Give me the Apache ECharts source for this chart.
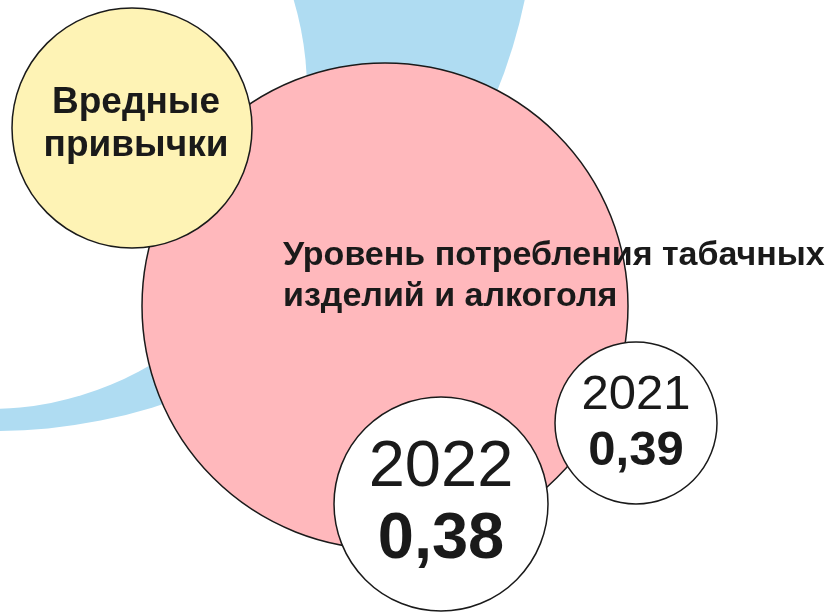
<!DOCTYPE html>
<html>
<head>
<meta charset="utf-8">
<script src="https://cdn.jsdelivr.net/npm/echarts@6/dist/echarts.min.js"></script>
<style>
  html, body { margin: 0; padding: 0; background: #fff; }
  #chart { width: 831px; height: 612px; }
</style>
</head>
<body>
<div id="chart"></div>
<script>
// data
var groupTitle = ['Вредные', 'привычки'];
var indicatorTitle = ['Уровень потребления табачных', 'изделий и алкоголя'];
var years = ['2021', '2022'];
var values = [0.39, 0.38];

var font = '"Liberation Sans", Arial, sans-serif';
var ink = '#1a1a1a';

function fmt(v) {
    return v.toFixed(2).replace('.', ',');
}

// bubble layout for each year (2021 small right, 2022 big bottom)
var bubbles = [
    { cx: 636, cy: 423, r: 81, size: 49, gap: 28 },
    { cx: 441, cy: 504, r: 107, size: 65, gap: 36 }
];

var elements = [];

// blue crescent behind everything
elements.push({
    type: 'circle', z: 1,
    shape: { cx: -5, cy: -110, r: 541 },
    style: { fill: '#afdcf2' }
});
elements.push({
    type: 'circle', z: 2,
    shape: { cx: -11, cy: 91, r: 318 },
    style: { fill: '#ffffff' }
});

// big pink circle
elements.push({
    type: 'circle', z: 3,
    shape: { cx: 385, cy: 306, r: 243 },
    style: { fill: '#ffb8bc', stroke: ink, lineWidth: 1.5 }
});

// yellow circle
elements.push({
    type: 'circle', z: 4,
    shape: { cx: 132, cy: 128, r: 120 },
    style: { fill: '#fef3b5', stroke: ink, lineWidth: 1.5 }
});
groupTitle.forEach(function (t, i) {
    elements.push({
        type: 'text', z: 5,
        x: 136, y: 103 + i * 43,
        style: {
            text: t, fill: ink, font: 'bold 37px ' + font,
            align: 'center', verticalAlign: 'middle'
        }
    });
});

// indicator title
indicatorTitle.forEach(function (t, i) {
    elements.push({
        type: 'text', z: 6,
        x: 283, y: 256 + i * 41,
        style: {
            text: t, fill: ink, font: 'bold 34px ' + font,
            align: 'left', verticalAlign: 'middle'
        }
    });
});

// year bubbles
years.forEach(function (y, i) {
    var b = bubbles[i];
    elements.push({
        type: 'circle', z: 7,
        shape: { cx: b.cx, cy: b.cy, r: b.r },
        style: { fill: '#ffffff', stroke: ink, lineWidth: 1.5 }
    });
    elements.push({
        type: 'text', z: 8,
        x: b.cx, y: b.cy - b.gap,
        style: {
            text: y, fill: ink, font: b.size + 'px ' + font,
            align: 'center', verticalAlign: 'middle'
        }
    });
    elements.push({
        type: 'text', z: 8,
        x: b.cx, y: b.cy + b.gap,
        style: {
            text: fmt(values[i]), fill: ink, font: 'bold ' + b.size + 'px ' + font,
            align: 'center', verticalAlign: 'middle'
        }
    });
});

var chart = echarts.init(document.getElementById('chart'), null, { renderer: 'canvas' });
chart.setOption({
    backgroundColor: '#ffffff',
    animation: false,
    graphic: { elements: elements }
});
</script>
</body>
</html>
